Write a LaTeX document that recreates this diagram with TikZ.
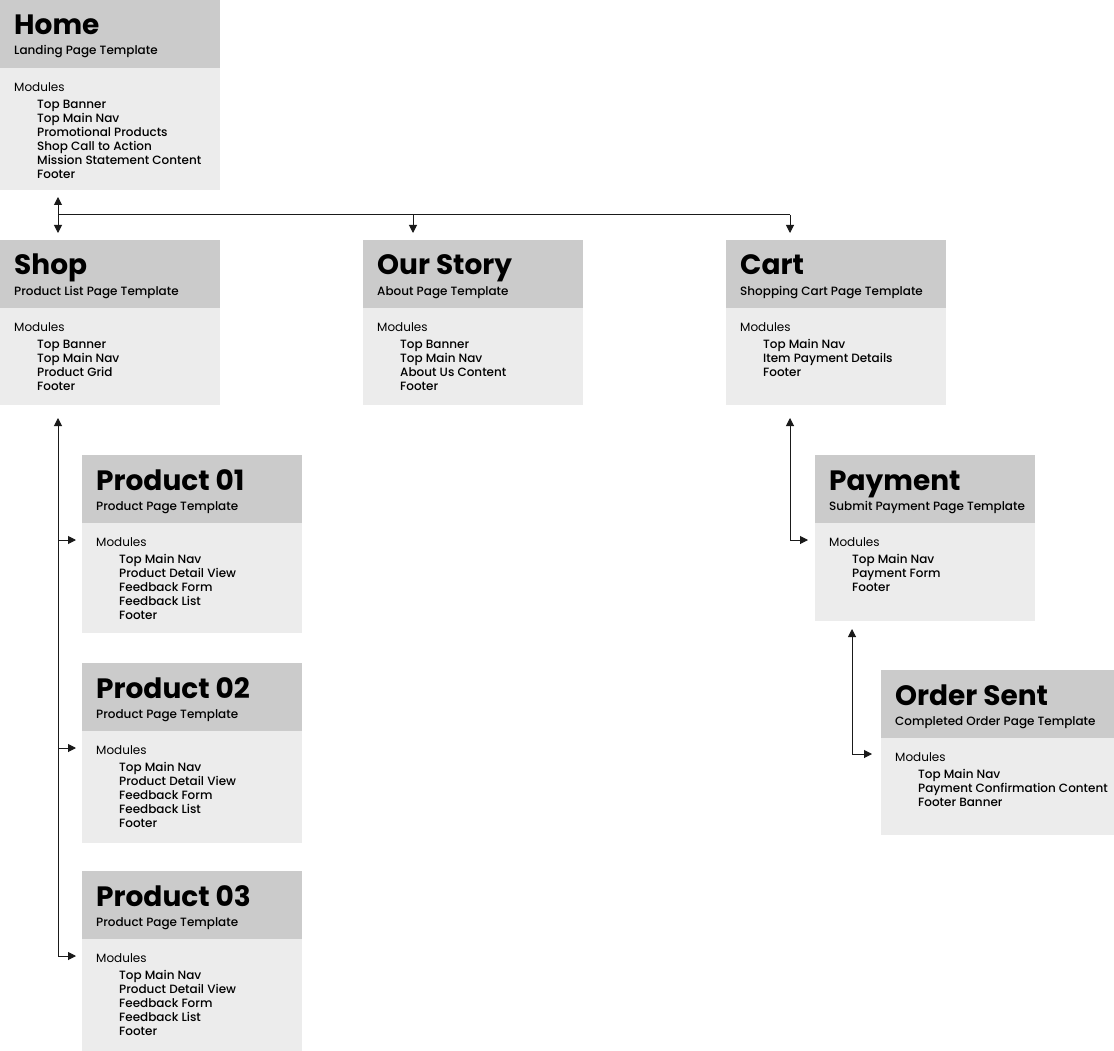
\documentclass[tikz,border=0pt]{standalone}
\usepackage{fontspec}
\setmainfont{Poppins}
\newfontfamily\pmed{Poppins Medium}
\usetikzlibrary{arrows.meta}
\definecolor{hdr}{HTML}{CBCBCB}
\definecolor{bdy}{HTML}{ECECEC}
\definecolor{ln}{HTML}{1A1A1A}
\tikzset{
  hdrbox/.style={fill=hdr, draw=none, inner sep=0pt, anchor=north west, minimum height=68pt},
  bdybox/.style={fill=bdy, draw=none, inner sep=0pt, anchor=north west},
  ttl/.style={anchor=base west, inner sep=0pt, font=\fontsize{28}{30}\selectfont\bfseries},
  sub/.style={anchor=base west, inner sep=0pt, font=\pmed\fontsize{12}{14}\selectfont},
  modl/.style={anchor=base west, inner sep=0pt, font=\fontsize{12}{14}\selectfont},
  itm/.style={anchor=base west, inner sep=0pt, font=\pmed\fontsize{12}{14}\selectfont},
  conn/.style={draw=ln, line width=1pt, -{Triangle[length=8pt,width=8pt]}},
  plain/.style={draw=ln, line width=1pt}
}
% #1 name, #2 x, #3 y, #4 width, #5 bottom, #6 title, #7 subtitle, #8 items
\newcommand{\pagebox}[8]{%
  \pgfmathsetmacro{\bh}{#5-#3-68}%
  \node[hdrbox, minimum width=#4pt] (#1h) at (#2,#3) {};
  \node[bdybox, minimum width=#4pt, minimum height=\bh pt] (#1b) at (#2,#3+68) {};
  \node[ttl] (#1t) at (#2+14,#3+35) {#6};
  \node[sub] (#1s) at (#2+14,#3+55) {#7};
  \node[modl] (#1m) at (#2+14,#3+91.5) {Modules};
  \foreach \t [count=\i from 0] in {#8} {
    \node[itm] (#1i\i) at (#2+37,#3+108.3+14.1*\i) {\t};
  }
}
\begin{document}
\begin{tikzpicture}[x=1pt,y=-1pt]
\fill[white] (0,0) rectangle (1114,1051);
\useasboundingbox (0,0) rectangle (1114,1051);

\pagebox{home}{0}{0}{220}{190}{Home}{Landing Page Template}{Top Banner,Top Main Nav,Promotional Products,Shop Call to Action,Mission Statement Content,Footer}
\pagebox{shop}{0}{240}{220}{405}{Shop}{Product List Page Template}{Top Banner,Top Main Nav,Product Grid,Footer}
\pagebox{story}{363}{240}{220}{405}{Our Story}{About Page Template}{Top Banner,Top Main Nav,About Us Content,Footer}
\pagebox{cart}{726}{240}{220}{405}{Cart}{Shopping Cart Page Template}{Top Main Nav,Item Payment Details,Footer}
\pagebox{pa}{82}{455}{220}{633}{Product 01}{Product Page Template}{Top Main Nav,Product Detail View,Feedback Form,Feedback List,Footer}
\pagebox{pb}{82}{663}{220}{843}{Product 02}{Product Page Template}{Top Main Nav,Product Detail View,Feedback Form,Feedback List,Footer}
\pagebox{pc}{82}{871}{220}{1051}{Product 03}{Product Page Template}{Top Main Nav,Product Detail View,Feedback Form,Feedback List,Footer}
\pagebox{pay}{815}{455}{220}{621}{Payment}{Submit Payment Page Template}{Top Main Nav,Payment Form,Footer}
\pagebox{ord}{881}{670}{233}{835}{Order Sent}{Completed Order Page Template}{Top Main Nav,Payment Confirmation Content,Footer Banner}

% home connectors
\coordinate (hj) at (58,215);
\coordinate (hup) at (58,197);
\coordinate (hdn) at (58,233);
\coordinate (sj) at (413,215);
\coordinate (sdn) at (413,233);
\coordinate (cj) at (790,215);
\coordinate (cdn) at (790,233);
\draw[conn] (hj) -- (hup);
\draw[conn] (hj) -- (hdn);
\draw[plain] (hj) -- (cj);
\draw[conn] (sj) -- (sdn);
\draw[conn] (cj) -- (cdn);

% shop connectors
\coordinate (shup) at (58,418);
\coordinate (p1j) at (58,540);
\coordinate (p2j) at (58,748);
\coordinate (p3j) at (58,956);
\coordinate (p1t) at (76,540);
\coordinate (p2t) at (76,748);
\coordinate (p3t) at (76,956);
\draw[conn] (p3j) -- (shup);
\draw[conn] (p1j) -- (p1t);
\draw[conn] (p2j) -- (p2t);
\draw[conn] (p3j) -- (p3t);

% cart connectors
\coordinate (caup) at (790,418);
\coordinate (paj) at (790,540);
\coordinate (pat) at (808,540);
\draw[conn] (paj) -- (caup);
\draw[conn] (paj) -- (pat);

% payment connectors
\coordinate (pyup) at (852,629);
\coordinate (orj) at (852,754);
\coordinate (ort) at (872,754);
\draw[conn] (orj) -- (pyup);
\draw[conn] (orj) -- (ort);
\end{tikzpicture}
\end{document}
